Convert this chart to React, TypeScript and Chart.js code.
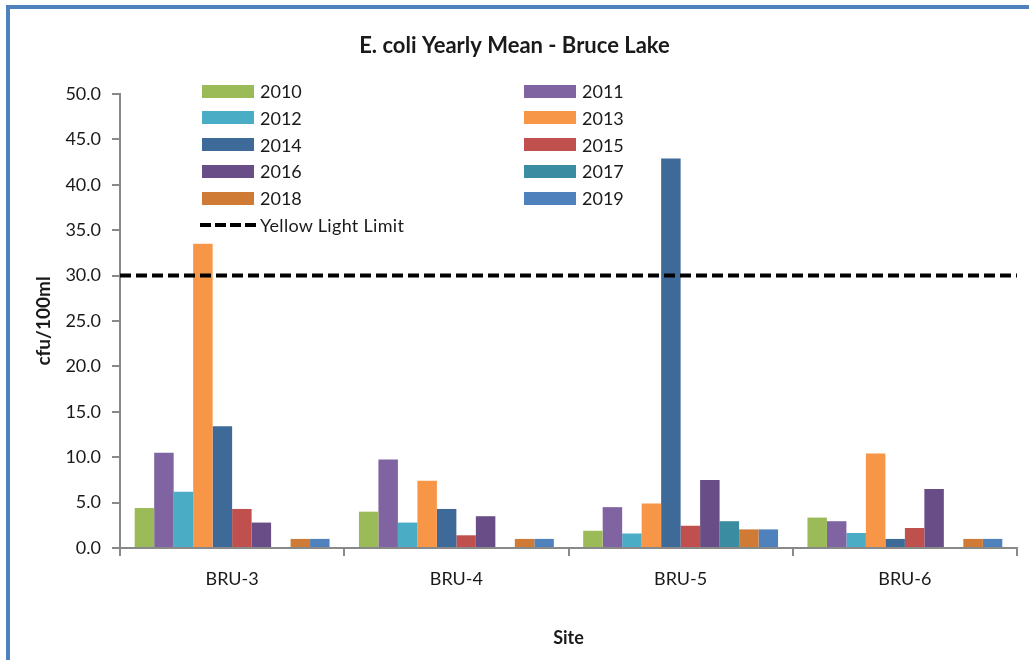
import React, { useEffect, useRef } from 'react';
import { Chart, registerables } from 'chart.js';

Chart.register(...registerables);

const FONT = 'Lato, "Open Sans", "Liberation Sans", sans-serif';

const sites = ['BRU-3', 'BRU-4', 'BRU-5', 'BRU-6'];
const years = ['2010', '2011', '2012', '2013', '2014', '2015', '2016', '2017', '2018', '2019'];

const v2010 = [4.4, 4.0, 1.9, 3.35];
const v2011 = [10.5, 9.75, 4.5, 2.95];
const v2012 = [6.2, 2.8, 1.6, 1.65];
const v2013 = [33.5, 7.4, 4.9, 10.4];
const v2014 = [13.4, 4.3, 42.9, 1.0];
const v2015 = [4.3, 1.4, 2.45, 2.2];
const v2016 = [2.8, 3.5, 7.5, 6.5];
const v2017 = [0, 0, 2.95, 0];
const v2018 = [1.0, 1.0, 2.05, 1.0];
const v2019 = [1.0, 1.0, 2.05, 1.0];

const seriesValues = [v2010, v2011, v2012, v2013, v2014, v2015, v2016, v2017, v2018, v2019];

const yearColors = [
  '#9BBB59', '#8064A2', '#4BACC6', '#F79646', '#3D6A99',
  '#C0504D', '#694D86', '#3A8CA0', '#D07B35', '#4F81BD',
];

const limitValue = 30;
const limitLabel = 'Yellow Light Limit';
const chartTitle = 'E. coli Yearly Mean - Bruce Lake';
const yTitle = 'cfu/100ml';
const xTitle = 'Site';
const yMin = 0;
const yMax = 50;
const yStep = 5;

const AXIS = '#898989';
const TEXT = '#1a1a1a';

function Legend() {
  const rowTop = 78;
  const rowGap = 26.8;
  const items: React.ReactNode[] = [];
  years.forEach((yr, i) => {
    const row = Math.floor(i / 2);
    const col = i % 2;
    const swLeft = col === 0 ? 202 : 524;
    items.push(
      <div key={yr} style={{ position: 'absolute', left: swLeft, top: rowTop + row * rowGap, height: 26, display: 'flex', alignItems: 'center' }}>
        <div style={{ width: 52, height: 13, background: yearColors[i], marginRight: 6 }} />
        <span style={{ fontFamily: FONT, fontSize: 18, color: TEXT, lineHeight: '26px' }}>{yr}</span>
      </div>
    );
  });
  items.push(
    <div key="limit" style={{ position: 'absolute', left: 200, top: rowTop + 5 * rowGap, height: 26, display: 'flex', alignItems: 'center' }}>
      <svg width={58} height={8} style={{ marginRight: 2 }}>
        <line x1={0} y1={4} x2={58} y2={4} stroke="#000" strokeWidth={4} strokeDasharray="11 4" />
      </svg>
      <span style={{ fontFamily: FONT, fontSize: 18, color: TEXT, lineHeight: '26px', letterSpacing: 0.3 }}>{limitLabel}</span>
    </div>
  );
  return <>{items}</>;
}

export default function App() {
  const canvasRef = useRef<HTMLCanvasElement | null>(null);

  useEffect(() => {
    if (!canvasRef.current) return;
    const barSets = years.map((yr, i) => ({
      type: 'bar' as const,
      label: yr,
      data: seriesValues[i],
      backgroundColor: yearColors[i],
      borderWidth: 0,
      categoryPercentage: 0.869,
      barPercentage: 1.0,
      order: 1,
    }));
    // limit line spans the whole category axis: from the left edge (index -0.5) to the right edge (last index + 0.5)
    const lineSet = {
      type: 'line' as const,
      label: limitLabel,
      parsing: false,
      data: [{ x: -0.5, y: limitValue }, { x: sites.length - 0.5, y: limitValue }],
      borderColor: '#000',
      borderWidth: 4,
      borderDash: [11, 5],
      pointRadius: 0,
      fill: false,
      order: -1,
    };
    const chart = new Chart(canvasRef.current, {
      type: 'bar',
      data: { labels: sites, datasets: [lineSet, ...barSets] as any },
      options: {
        animation: false,
        responsive: false,
        maintainAspectRatio: false,
        layout: { padding: { left: 12, right: 12, top: 0, bottom: 0 } },
        plugins: {
          legend: { display: false },
          tooltip: { enabled: false },
          title: {
            display: true,
            text: chartTitle,
            color: TEXT,
            font: { family: FONT, size: 22, weight: 'bold' },
            padding: { top: 33, bottom: 34.6 },
          },
        },
        scales: {
          x: {
            type: 'category',
            grid: { display: true, drawOnChartArea: false, drawTicks: true, tickLength: 8, color: AXIS, lineWidth: 2, offset: true },
            border: { display: true, color: AXIS, width: 2 },
            ticks: { color: TEXT, font: { family: FONT, size: 18 }, padding: 12 },
            title: { display: true, text: xTitle, color: TEXT, font: { family: FONT, size: 18, weight: 'bold' }, padding: { top: 0, bottom: 11 } },
            afterFit: (s: any) => { s.height = 112; },
          },
          y: {
            min: yMin,
            max: yMax,
            grid: { display: true, drawOnChartArea: false, drawTicks: true, tickLength: 8, color: AXIS, lineWidth: 2 },
            border: { display: true, color: AXIS, width: 2 },
            ticks: {
              stepSize: yStep,
              color: TEXT,
              font: { family: FONT, size: 18 },
              padding: 11,
              callback: (v: any) => Number(v).toFixed(1),
            },
            title: { display: true, text: yTitle, color: TEXT, font: { family: FONT, size: 19, weight: 'bold' }, padding: { top: 20, bottom: 0 } },
            afterFit: (s: any) => { s.width = 108; },
          },
        },
      } as any,
    });
    return () => chart.destroy();
  }, []);

  return (
    <div style={{ position: 'fixed', left: 0, top: 0, width: 1029, height: 660, background: '#fff', overflow: 'hidden' }}>
      <div style={{ position: 'absolute', left: 6, top: 5, width: 1100, height: 700, borderTop: '4px solid #4F81BD', borderLeft: '4px solid #4F81BD' }} />
      <canvas ref={canvasRef} width={1029} height={660} style={{ position: 'absolute', left: 0, top: 0, width: 1029, height: 660 }} />
      <Legend />
    </div>
  );
}
